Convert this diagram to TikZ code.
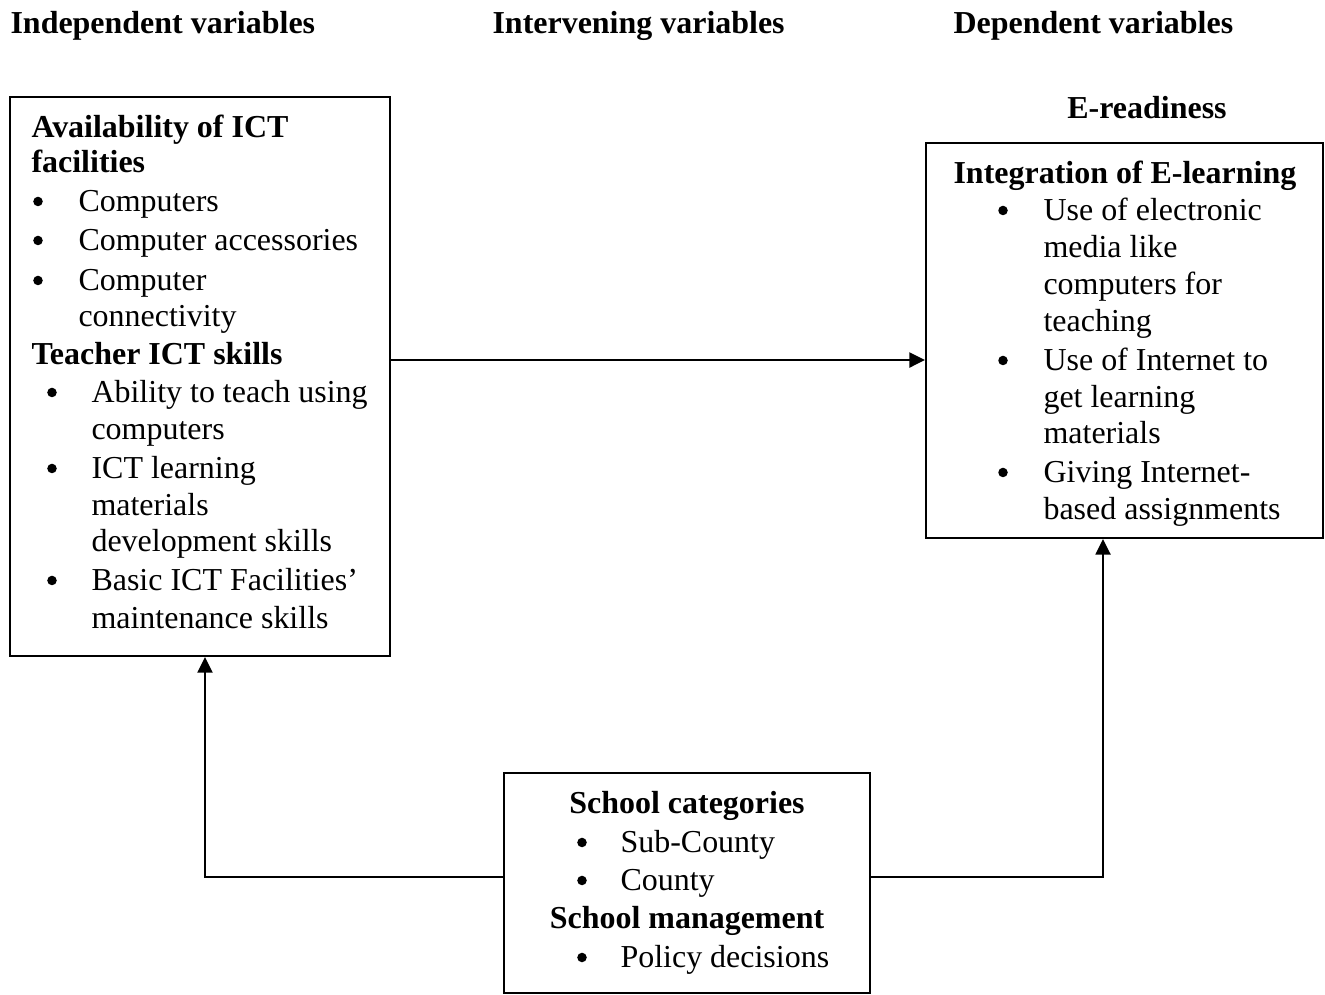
\documentclass[tikz,border=0pt]{standalone}
\usepackage{fontspec}
\setmainfont{Liberation Serif}
\usetikzlibrary{arrows.meta,fit}
\begin{document}
\begin{tikzpicture}[x=0.3676pt,y=-0.3676pt,
  box/.style={draw,line width=0.75pt,inner sep=0pt},
  arr/.style={line width=0.75pt,-{Triangle[length=5.7pt,width=5.5pt]}},
  txt/.style={anchor=base west,inner sep=0pt,font=\fontsize{11.75}{14}\selectfont},
  btxt/.style={txt,font=\fontsize{11.75}{14}\selectfont\bfseries},
  ctxt/.style={anchor=base,inner sep=0pt,font=\fontsize{11.75}{14}\selectfont\bfseries},
  bul/.style={circle,fill,inner sep=0pt,minimum size=3.5pt,yshift=3.5pt}]
\useasboundingbox (0,0) rectangle (1325,994);
% headers
\node[btxt] (h1) at (10,33) {Independent variables};
\node[btxt] (h2) at (492,33) {Intervening variables};
\node[btxt] (h3) at (953,33) {Dependent variables};
\node[ctxt] (h4) at (1147,118) {E-readiness};
% boxes
\coordinate (l1) at (10,97); \coordinate (l2) at (390,656);
\node[box,fit=(l1)(l2)] (left) {};
\coordinate (r1) at (926,143); \coordinate (r2) at (1323,538);
\node[box,fit=(r1)(r2)] (right) {};
\coordinate (b1) at (504,773); \coordinate (b2) at (870,993);
\node[box,fit=(b1)(b2)] (bot) {};
% left box text
\node[btxt] (a1) at (31,137) {Availability of ICT};
\node[btxt] (a2) at (31,172) {facilities};
\node[bul] (ab1) at (38,211) {};
\node[txt] (a3) at (78,211) {Computers};
\node[bul] (ab2) at (38,250) {};
\node[txt] (a4) at (78,250) {Computer accessories};
\node[bul] (ab3) at (38,290) {};
\node[txt] (a5) at (78,290) {Computer};
\node[txt] (a6) at (78,326) {connectivity};
\node[btxt] (t1) at (31,364) {Teacher ICT skills};
\node[bul] (tb1) at (52,402) {};
\node[txt] (t2) at (91,402) {Ability to teach using};
\node[txt] (t3) at (91,439) {computers};
\node[bul] (tb2) at (52,478) {};
\node[txt] (t4) at (91,478) {ICT learning};
\node[txt] (t5) at (91,515) {materials};
\node[txt] (t6) at (91,551) {development skills};
\node[bul] (tb3) at (52,590) {};
\node[txt] (t7) at (91,590) {Basic ICT Facilities’};
\node[txt] (t8) at (91,628) {maintenance skills};
% right box text
\node[btxt] (i1) at (953,183) {Integration of E-learning};
\node[bul] (ib1) at (1003,220) {};
\node[txt] (i2) at (1043,220) {Use of electronic};
\node[txt] (i3) at (1043,257) {media like};
\node[txt] (i4) at (1043,294) {computers for};
\node[txt] (i5) at (1043,331) {teaching};
\node[bul] (ib2) at (1003,370) {};
\node[txt] (i6) at (1043,370) {Use of Internet to};
\node[txt] (i7) at (1043,407) {get learning};
\node[txt] (i8) at (1043,443) {materials};
\node[bul] (ib3) at (1003,482) {};
\node[txt] (i9) at (1043,482) {Giving Internet-};
\node[txt] (i10) at (1043,519) {based assignments};
% bottom box text
\node[ctxt] (s1) at (687,813) {School categories};
\node[bul] (sb1) at (582,852) {};
\node[txt] (s2) at (620,852) {Sub-County};
\node[bul] (sb2) at (582,890) {};
\node[txt] (s3) at (620,890) {County};
\node[ctxt] (s4) at (687,928) {School management};
\node[bul] (sb3) at (582,967) {};
\node[txt] (s5) at (620,967) {Policy decisions};
% connectors
\coordinate (ya) at (0,360);
\coordinate (yb) at (0,877);
\coordinate (xl) at (205,0);
\coordinate (xr) at (1103,0);
\draw[arr] (left.east |- ya) -- (right.west |- ya);
\draw[arr] (bot.west |- yb) -| (left.south -| xl);
\draw[arr] (bot.east |- yb) -| (right.south -| xr);
\end{tikzpicture}
\end{document}
